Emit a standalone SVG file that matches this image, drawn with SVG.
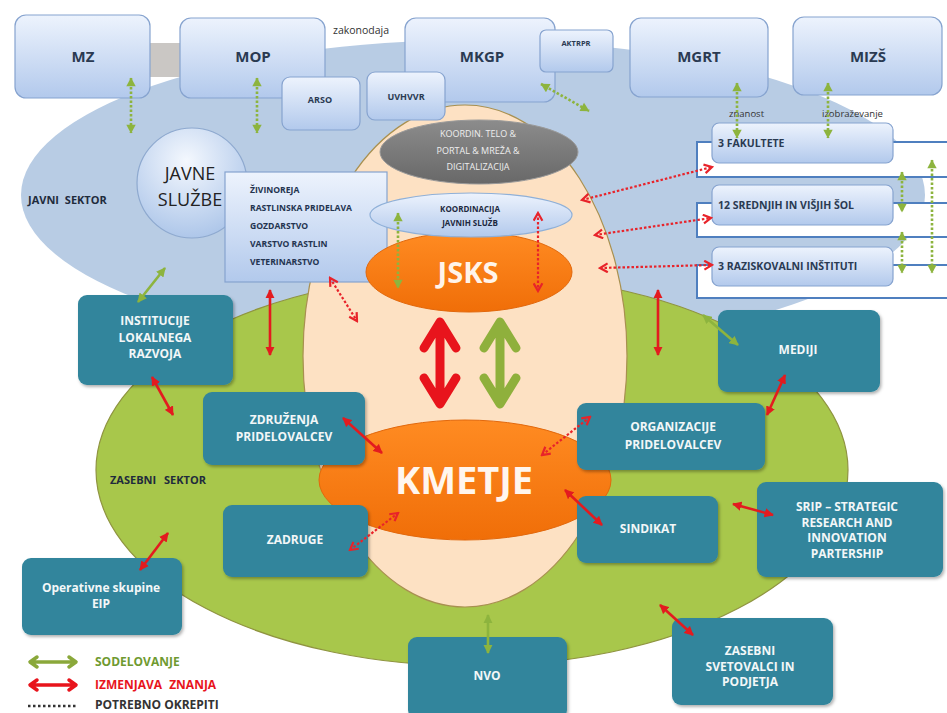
<svg xmlns="http://www.w3.org/2000/svg" width="947" height="713" viewBox="0 0 947 713">
<defs>
<style>
text{font-family:"Open Sans","Liberation Sans",sans-serif}
.tb{fill:url(#lb);stroke:#86a3cf;stroke-width:1.2}
.tt{font-weight:bold;fill:#2a3a52;text-anchor:middle}
.ts{font-weight:bold;fill:#2a3a52;text-anchor:start;font-size:10.5px}
.teal{fill:#31859c;filter:url(#sh)}
.wt{font-weight:bold;fill:#f2f7f8;text-anchor:middle;font-size:12px}
.lt{font-weight:bold;fill:#243450;font-size:8.6px}
.st{font-weight:bold;fill:#1f2b3c;font-size:11px}
.gd{fill:none;stroke:#8db43e;stroke-width:2.6;stroke-dasharray:2.5 2;marker-start:url(#gt);marker-end:url(#gt)}
.rd{fill:none;stroke:#e8232a;stroke-width:2.2;stroke-dasharray:2.5 2;marker-start:url(#rc);marker-end:url(#rc)}
.rs{fill:none;stroke:#e31b1f;stroke-width:2.6;marker-start:url(#rt);marker-end:url(#rt)}
.gs{fill:none;stroke:#8db43e;stroke-width:2.6;marker-start:url(#gt2);marker-end:url(#gt2)}
.big{fill:none;stroke-width:9;stroke-linecap:round;stroke-linejoin:round}
.leg{fill:none;stroke-width:3.5;stroke-linecap:round;stroke-linejoin:round}
</style>
<linearGradient id="lb" x1="0" y1="0" x2="0" y2="1"><stop offset="0" stop-color="#edf3fd"/><stop offset="1" stop-color="#b2c9ec"/></linearGradient>
<linearGradient id="og" x1="0" y1="0" x2="0" y2="1"><stop offset="0" stop-color="#ff8b22"/><stop offset="1" stop-color="#f06e08"/></linearGradient>
<linearGradient id="gg" x1="0" y1="0" x2="0" y2="1"><stop offset="0" stop-color="#8c8c8c"/><stop offset="1" stop-color="#686868"/></linearGradient>
<radialGradient id="cg" cx="0.45" cy="0.3" r="0.75"><stop offset="0" stop-color="#f4f8fe"/><stop offset="1" stop-color="#a9c3e8"/></radialGradient>
<filter id="sh" x="-10%" y="-10%" width="125%" height="130%"><feDropShadow dx="1.5" dy="2" stdDeviation="1.5" flood-color="#000" flood-opacity="0.3"/></filter>
<marker id="gt" viewBox="0 0 10 10" refX="9" refY="5" markerWidth="4" markerHeight="4" orient="auto-start-reverse"><path d="M1,0.5 L9.5,5 L1,9.5 z" fill="#8db43e"/></marker>
<marker id="gt2" viewBox="0 0 10 10" refX="9" refY="5" markerWidth="3.6" markerHeight="3.6" orient="auto-start-reverse"><path d="M0,0 L10,5 L0,10 z" fill="#8db43e"/></marker>
<marker id="rt" viewBox="0 0 10 10" refX="9" refY="5" markerWidth="3.6" markerHeight="3.6" orient="auto-start-reverse"><path d="M0,0 L10,5 L0,10 z" fill="#e31b1f"/></marker>
<marker id="rc" viewBox="0 0 10 10" refX="8.5" refY="5" markerWidth="5" markerHeight="5" orient="auto-start-reverse"><path d="M1.5,1 L8.5,5 L1.5,9" fill="none" stroke="#e8232a" stroke-width="2"/></marker>
</defs>
<rect width="947" height="713" fill="#ffffff"/>

<g id="background">
<ellipse cx="473" cy="195" rx="452" ry="155" fill="#b8cce4"/>
<rect x="150" y="43" width="32" height="34" fill="#cac7c4"/>
<ellipse cx="472" cy="470" rx="376" ry="196" fill="#a8c74b" stroke="#8f9440" stroke-width="1.2"/>
<ellipse cx="465" cy="356" rx="162" ry="251" fill="#fde1c3" stroke="#a89050" stroke-width="1.2"/>
<text x="28" y="204" class="st" word-spacing="3">JAVNI SEKTOR</text>
<text x="110" y="484" class="st" word-spacing="5" fill="#2a2f1e">ZASEBNI SEKTOR</text>
<text x="333" y="34" font-size="10.5" fill="#333">zakonodaja</text>
<text x="729" y="117" font-size="9.5" fill="#333">znanost</text>
<text x="822" y="117" font-size="9.5" fill="#333">izobraževanje</text>
</g>

<g id="stack-frames">
<rect x="697" y="142" width="260" height="35" fill="#ffffff" stroke="#4f7fbf" stroke-width="2"/>
<rect x="697" y="203" width="260" height="34" fill="#ffffff" stroke="#4f7fbf" stroke-width="2"/>
<rect x="697" y="265" width="260" height="33" fill="#ffffff" stroke="#4f7fbf" stroke-width="2"/>
</g>

<g id="mz"><rect x="15" y="15" width="135" height="83" rx="11" class="tb"/><text x="83" y="62" font-size="15" class="tt">MZ</text></g>
<g id="mop"><rect x="180" y="18" width="145" height="80" rx="11" class="tb"/><text x="253" y="62" font-size="15" class="tt">MOP</text></g>
<g id="arso"><rect x="282" y="77" width="78" height="53" rx="8" class="tb"/><text x="320" y="103" font-size="9" class="tt">ARSO</text></g>
<g id="mkgp"><rect x="405" y="18" width="150" height="84" rx="11" class="tb"/><text x="482" y="62" font-size="15" class="tt">MKGP</text></g>
<g id="uvhvvr"><rect x="367" y="72" width="78" height="48" rx="8" class="tb"/><text x="406" y="100" font-size="9" class="tt">UVHVVR</text></g>
<g id="aktrpr"><rect x="540" y="30" width="73" height="42" rx="6" class="tb"/><text x="576" y="46" font-size="7.5" class="tt">AKTRPR</text></g>
<g id="mgrt"><rect x="630" y="18" width="138" height="79" rx="11" class="tb"/><text x="699" y="62" font-size="15" class="tt">MGRT</text></g>
<g id="mizs"><rect x="793" y="17" width="149" height="78" rx="11" class="tb"/><text x="868" y="62" font-size="15" class="tt">MIZŠ</text></g>

<g id="fakultete"><rect x="712" y="123" width="181" height="40" rx="7" class="tb"/><text x="718" y="147" class="ts">3 FAKULTETE</text></g>
<g id="sole"><rect x="712" y="185" width="181" height="40" rx="7" class="tb"/><text x="718" y="209" class="ts">12 SREDNJIH IN VIŠJIH ŠOL</text></g>
<g id="instituti"><rect x="712" y="247" width="181" height="39" rx="7" class="tb"/><text x="718" y="270" class="ts">3 RAZISKOVALNI INŠTITUTI</text></g>

<g id="javne-sluzbe">
<circle cx="192" cy="183" r="55" fill="url(#cg)" stroke="#8ea9cf" stroke-width="1.2"/>
<text x="190" y="180" font-size="18" fill="#222" text-anchor="middle">JAVNE</text>
<text x="190" y="206" font-size="18" fill="#222" text-anchor="middle">SLUŽBE</text>
</g>
<g id="podrocja">
<rect x="225" y="172" width="162" height="110" class="tb"/>
<text x="250" y="193" class="lt">ŽIVINOREJA</text>
<text x="250" y="211" class="lt">RASTLINSKA PRIDELAVA</text>
<text x="250" y="229" class="lt">GOZDARSTVO</text>
<text x="250" y="247" class="lt">VARSTVO RASTLIN</text>
<text x="250" y="265" class="lt">VETERINARSTVO</text>
</g>

<g id="koordin-telo">
<ellipse cx="479" cy="152" rx="99" ry="32" fill="url(#gg)" stroke="#9a9a9a" stroke-width="1"/>
<text x="478" y="137" font-size="9" fill="#eeeeee" text-anchor="middle">KOORDIN. TELO &amp;</text>
<text x="478" y="154" font-size="9" fill="#eeeeee" text-anchor="middle">PORTAL &amp; MREŽA &amp;</text>
<text x="478" y="170" font-size="9" fill="#eeeeee" text-anchor="middle">DIGITALIZACIJA</text>
</g>
<g id="jsks">
<ellipse cx="469" cy="272" rx="103" ry="40" fill="url(#og)" stroke="#e2680c" stroke-width="1"/>
<text x="468" y="283" font-size="29" font-weight="bold" fill="#fff4ea" text-anchor="middle">JSKS</text>
</g>
<g id="koordinacija">
<ellipse cx="471" cy="215" rx="101" ry="22" fill="url(#lb)" stroke="#8fb0d8" stroke-width="1.2"/>
<text x="470" y="212" font-size="8" font-weight="bold" fill="#1d2940" text-anchor="middle">KOORDINACIJA</text>
<text x="470" y="226" font-size="8" font-weight="bold" fill="#1d2940" text-anchor="middle">JAVNIH SLUŽB</text>
</g>
<g id="kmetje">
<ellipse cx="465" cy="480" rx="146" ry="60" fill="url(#og)" stroke="#e2680c" stroke-width="1"/>
<text x="464" y="494" font-size="38" font-weight="bold" fill="#fff6ee" text-anchor="middle">KMETJE</text>
</g>

<g id="institucije"><rect x="78" y="295" width="155" height="90" rx="9" class="teal"/><text x="155" y="325" class="wt" font-size="11.5">INSTITUCIJE</text><text x="155" y="341.5" class="wt" font-size="11.5">LOKALNEGA</text><text x="155" y="358" class="wt" font-size="11.5">RAZVOJA</text></g>
<g id="zdruzenja"><rect x="203" y="392" width="162" height="73" rx="9" class="teal"/><text x="284" y="424" class="wt">ZDRUŽENJA</text><text x="284" y="441" class="wt">PRIDELOVALCEV</text></g>
<g id="organizacije"><rect x="577" y="403" width="188" height="67" rx="9" class="teal"/><text x="673" y="431" class="wt">ORGANIZACIJE</text><text x="673" y="449" class="wt">PRIDELOVALCEV</text></g>
<g id="mediji"><rect x="718" y="310" width="162" height="82" rx="9" class="teal"/><text x="798" y="354" class="wt" font-size="11">MEDIJI</text></g>
<g id="sindikat"><rect x="577" y="496" width="141" height="67" rx="9" class="teal"/><text x="648" y="533" class="wt">SINDIKAT</text></g>
<g id="srip"><rect x="757" y="482" width="186" height="95" rx="9" class="teal"/><text x="847" y="511" class="wt" font-size="10">SRIP – STRATEGIC</text><text x="847" y="526.5" class="wt" font-size="10">RESEARCH AND</text><text x="847" y="542" class="wt" font-size="10">INNOVATION</text><text x="847" y="557.5" class="wt" font-size="10">PARTERSHIP</text></g>
<g id="zasebni"><rect x="672" y="618" width="161" height="87" rx="9" class="teal"/><text x="750" y="655" class="wt" font-size="10">ZASEBNI</text><text x="750" y="670.5" class="wt" font-size="10">SVETOVALCI IN</text><text x="750" y="686" class="wt" font-size="10">PODJETJA</text></g>
<g id="nvo"><rect x="408" y="637" width="159" height="82" rx="9" class="teal"/><text x="487" y="680" class="wt">NVO</text></g>
<g id="zadruge"><rect x="223" y="505" width="145" height="72" rx="9" class="teal"/><text x="295" y="544" class="wt">ZADRUGE</text></g>
<g id="operativne"><rect x="22" y="558" width="160" height="77" rx="9" class="teal"/><text x="101" y="592" class="wt" font-size="11">Operativne skupine</text><text x="101" y="608" class="wt" font-size="11">EIP</text></g>

<g id="connectors">
<path class="gd" d="M131,78 V133"/>
<path class="gd" d="M257,78 V133"/>
<path class="gd" d="M541,84 L589,111"/>
<path class="gd" d="M737,83 V138"/>
<path class="gd" d="M828,83 V138"/>
<path class="gd" d="M902,172 V212"/>
<path class="gd" d="M902,232 V273"/>
<path class="gd" d="M932,160 V273"/>
<path class="gd" d="M398,213 V288"/>
<path class="rd" d="M538,213 V291"/>
<path class="rd" d="M330,278 L357,321"/>
<path class="rd" d="M582,200 L712,167"/>
<path class="rd" d="M595,235 L711,218"/>
<path class="rd" d="M600,268 L712,265"/>
<path class="rd" d="M590,417 L542,455"/>
<path class="rd" d="M350,550 L398,513"/>
<path class="rs" d="M270,290 V355"/>
<path class="rs" d="M658,290 V355"/>
<path class="rs" d="M152,377 L173,415"/>
<path class="rs" d="M343,418 L382,453"/>
<path class="rs" d="M785,375 L767,415"/>
<path class="rs" d="M565,490 L602,525"/>
<path class="rs" d="M733,504 L773,515"/>
<path class="rs" d="M660,605 L693,635"/>
<path class="rs" d="M140,570 L168,533"/>
<path class="gs" d="M165,268 L138,302"/>
<path class="gs" d="M703,315 L738,345"/>
<path class="gs" d="M488,615 V653"/>
<path class="big" stroke="#e8141c" d="M440,323 V403 M424,348 L440,322 L456,348 M424,378 L440,404 L456,378"/>
<path class="big" stroke="#8fb03c" d="M500,323 V403 M484,348 L500,322 L516,348 M484,378 L500,404 L516,378"/>
</g>

<g id="legend">
<path class="leg" stroke="#8aa83a" d="M31,662 H75 M37,657 L30,662 L37,667 M69,657 L76,662 L69,667"/>
<text x="95" y="666" font-size="12" font-weight="bold" fill="#6f9a30">SODELOVANJE</text>
<path class="leg" stroke="#e8141c" d="M31,685 H75 M37,680 L30,685 L37,690 M69,680 L76,685 L69,690"/>
<text x="95" y="689" font-size="12" font-weight="bold" fill="#e8141c" word-spacing="4">IZMENJAVA ZNANJA</text>
<path d="M28,706 H77" stroke="#333" stroke-width="2.5" stroke-dasharray="2.5 2.5" fill="none"/>
<text x="95" y="709" font-size="12" font-weight="bold" fill="#333">POTREBNO OKREPITI</text>
</g>
</svg>
